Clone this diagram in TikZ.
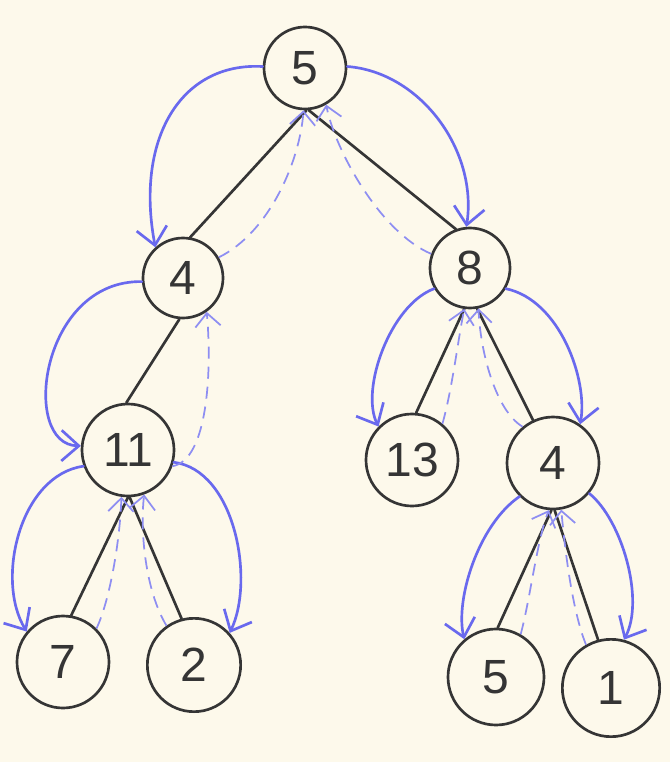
\documentclass[tikz,border=0pt]{standalone}
\usepackage{fontspec}
\setmainfont{Liberation Sans}
\usetikzlibrary{arrows.meta}
\definecolor{paper}{HTML}{FDF9EB}
\definecolor{ink}{HTML}{353535}
\definecolor{pen}{RGB}{105,105,238}
\tikzset{
  tnode/.style={circle,draw=ink,line width=2pt,inner sep=0pt,font=\fontsize{36}{38}\selectfont,text=ink},
  edge/.style={draw=ink,line width=2pt,line cap=round},
  down/.style={draw=pen,line width=2pt,line cap=round,-{Straight Barb[length=13pt,width=23pt]}},
  up/.style={draw=pen!75,line width=1.3pt,dash pattern=on 9pt off 6pt,-{Straight Barb[length=10pt,width=19pt]}}
}
\begin{document}
\begin{tikzpicture}[x=0.75pt,y=-0.75pt]
\fill[paper] (0,0) rectangle (670,762);
\useasboundingbox (0,0) rectangle (670,762);
% nodes
\node[tnode,minimum size=61.5pt] (R) at (305,68) {5};
\node[tnode,minimum size=60pt] (L4) at (183,278) {4};
\node[tnode,minimum size=60pt] (E8) at (470,268) {8};
\node[tnode,minimum size=69pt] (N11) at (128,450) {11};
\node[tnode,minimum size=69pt] (N13) at (412,460) {13};
\node[tnode,minimum size=69pt] (R4) at (553,463) {4};
\node[tnode,minimum size=69pt] (N7) at (63,662) {7};
\node[tnode,minimum size=70pt] (N2) at (194,665) {2};
\node[tnode,minimum size=72pt] (B5) at (496,677) {5};
\node[tnode,minimum size=73pt] (B1) at (611,688) {1};
% tree edges
\draw[edge] (R.272) -- (L4.80);
\draw[edge] (R.275) -- (E8.110);
\draw[edge] (L4.265) -- (N11.92);
\draw[edge] (N11.270) -- (N7.80);
\draw[edge] (N11.272) -- (N2.105);
\draw[edge] (E8.262) -- (N13.85);
\draw[edge] (E8.280) -- (R4.115);
\draw[edge] (R4.268) -- (B5.88);
\draw[edge] (R4.272) -- (B1.105);
% downward (solid) arrows
\draw[down] (R.178) .. controls (180,62) and (135,140) .. (L4.132);
\draw[down] (R.2) .. controls (420,72) and (478,150) .. (E8.95);
\draw[down] (L4.185) .. controls (40,280) and (20,445) .. (N11.175);
\draw[down] (N11.200) .. controls (20,475) and (-5,580) .. (N7.140);
\draw[down] (N11.345) .. controls (235,470) and (255,580) .. (N2.42);
\draw[down] (E8.210) .. controls (390,305) and (360,390) .. (N13.135);
\draw[down] (E8.330) .. controls (560,300) and (588,380) .. (R4.55);
\draw[down] (R4.225) .. controls (478,525) and (455,600) .. (B5.130);
\draw[down] (R4.320) .. controls (622,520) and (645,600) .. (B1.75);
% upward (dashed) arrows
\draw[up] (L4.30) .. controls (270,232) and (300,160) .. (R.268);
\draw[up] (E8.160) .. controls (380,232) and (335,150) .. (R.300);
\draw[up] (N11.340) .. controls (208,460) and (212,370) .. (L4.305);
\draw[up] (N7.45) .. controls (110,600) and (120,540) .. (N11.262);
\draw[up] (N2.125) .. controls (145,590) and (140,530) .. (N11.290);
\draw[up] (N13.50) .. controls (452,390) and (458,340) .. (E8.262);
\draw[up] (R4.130) .. controls (495,410) and (480,350) .. (E8.282);
\draw[up] (B5.60) .. controls (530,600) and (537,540) .. (R4.265);
\draw[up] (B1.120) .. controls (572,610) and (565,550) .. (R4.280);
\end{tikzpicture}
\end{document}
